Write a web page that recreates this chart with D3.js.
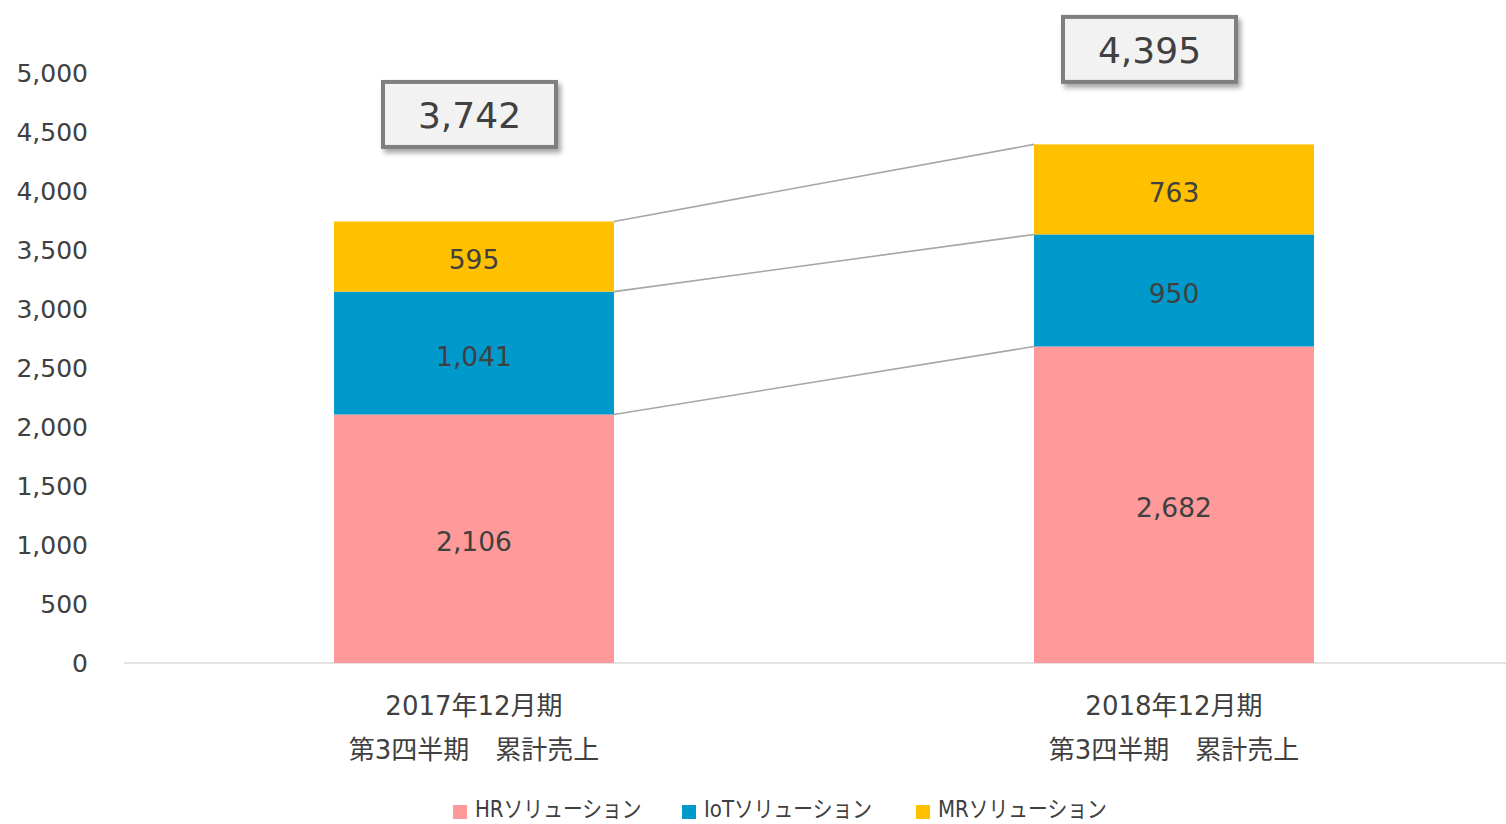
<!DOCTYPE html>
<html>
  <head>
    <meta charset="UTF-8">
    <title>累計売上</title>
    <script src="https://cdnjs.cloudflare.com/ajax/libs/d3/7.8.5/d3.min.js"></script>
    <style>
      body { margin: 0; background: #fff; }
      text { font-family: "DejaVu Sans", "Noto Sans CJK JP", sans-serif; fill: #404040; }
      .tick text { font-size: 25px; }
    </style>
  </head>
  <body>
    <div id="chart"></div>
    <script>
      // data
      const periods = ["2017年12月期", "2018年12月期"];
      const periodSub = ["第3四半期　累計売上", "第3四半期　累計売上"];
      const seriesNames = ["HRソリューション", "IoTソリューション", "MRソリューション"];
      const hrValues = [2106, 2682];
      const iotValues = [1041, 950];
      const mrValues = [595, 763];
      const yTicks = [0, 500, 1000, 1500, 2000, 2500, 3000, 3500, 4000, 4500, 5000];
      const colors = ["#ff999a", "#0099cc", "#ffc000"];

      const width = 1506, height = 824;
      const svg = d3.select("#chart").append("svg")
        .attr("width", width).attr("height", height);

      const defs = svg.append("defs");
      defs.append("filter").attr("id", "shadow")
        .attr("x", "-20%").attr("y", "-20%").attr("width", "140%").attr("height", "150%")
        .append("feDropShadow")
        .attr("dx", 3).attr("dy", 4).attr("stdDeviation", 2.5)
        .attr("flood-color", "#000").attr("flood-opacity", 0.35);

      const x = d3.scaleBand().domain(periods).range([124, 1524])
        .paddingInner(0.6).paddingOuter(0.3);
      const y = d3.scaleLinear().domain([0, 5000]).range([663, 73]);

      // y axis (labels only)
      const yAxis = svg.append("g").attr("transform", "translate(88,0)")
        .call(d3.axisLeft(y).tickValues(yTicks).tickSize(0).tickPadding(0)
          .tickFormat(d3.format(",")));
      yAxis.select(".domain").remove();
      yAxis.selectAll(".tick text").attr("dy", "0.35em").style("fill", "#404040");

      // baseline
      svg.append("line")
        .attr("x1", 124).attr("x2", 1506)
        .attr("y1", y(0)).attr("y2", y(0))
        .attr("stroke", "#d9d9d9").attr("stroke-width", 1.5);

      // stacked data
      const rows = periods.map((p, i) => ({ period: p, hr: hrValues[i], iot: iotValues[i], mr: mrValues[i] }));
      const keys = ["hr", "iot", "mr"];
      const stacked = d3.stack().keys(keys)(rows);

      // connector lines between the bars
      stacked.forEach(layer => {
        svg.append("line")
          .attr("x1", x(periods[0]) + x.bandwidth()).attr("y1", y(layer[0][1]))
          .attr("x2", x(periods[1])).attr("y2", y(layer[1][1]))
          .attr("stroke", "#a6a6a6").attr("stroke-width", 1.6);
      });

      const layers = svg.selectAll(".layer").data(stacked).enter().append("g")
        .attr("fill", (d, i) => colors[i]);
      layers.selectAll("rect").data(d => d).enter().append("rect")
        .attr("x", d => x(d.data.period))
        .attr("y", d => y(d[1]))
        .attr("width", x.bandwidth())
        .attr("height", d => y(d[0]) - y(d[1]));

      layers.selectAll("text").data(d => d).enter().append("text")
        .attr("x", d => x(d.data.period) + x.bandwidth() / 2)
        .attr("y", d => (y(d[0]) + y(d[1])) / 2 + 3)
        .attr("dy", "0.36em")
        .attr("text-anchor", "middle")
        .style("font-size", "26.5px")
        .text(d => d3.format(",")(d[1] - d[0]));

      // category labels
      periods.forEach((p, i) => {
        const cx = x(p) + x.bandwidth() / 2;
        svg.append("text").attr("x", cx).attr("y", 715)
          .attr("text-anchor", "middle").style("font-size", "26px").text(p);
        svg.append("text").attr("x", cx).attr("y", 759)
          .attr("text-anchor", "middle").style("font-size", "26px").text(periodSub[i]);
      });

      // total boxes
      const boxW = 173, boxH = 65;
      const boxDx = [-4.5, -24.5], boxDy = [-107, -95];
      rows.forEach((r, i) => {
        const total = r.hr + r.iot + r.mr;
        const cx = x(r.period) + x.bandwidth() / 2 + boxDx[i];
        const cy = y(total) + boxDy[i];
        svg.append("rect")
          .attr("x", cx - boxW / 2).attr("y", cy - boxH / 2)
          .attr("width", boxW).attr("height", boxH)
          .attr("fill", "#f2f2f2").attr("stroke", "#7f7f7f").attr("stroke-width", 4)
          .attr("filter", "url(#shadow)");
        svg.append("text").attr("x", cx).attr("y", cy + 1)
          .attr("dy", "0.36em").attr("text-anchor", "middle")
          .style("font-size", "36px").text(d3.format(",")(total));
      });

      // legend (glyphs a little condensed, like the original font)
      const legendX = [453, 682, 916];
      const legend = svg.selectAll(".legend").data(seriesNames).enter().append("g")
        .attr("transform", (d, i) => `translate(${legendX[i]},805)`);
      legend.append("rect").attr("width", 14).attr("height", 14)
        .attr("fill", (d, i) => colors[i]);
      legend.append("g").attr("transform", "translate(22,12) scale(0.86,1)")
        .append("text")
        .style("font-size", "23px").text(d => d);
    </script>
  </body>
</html>
